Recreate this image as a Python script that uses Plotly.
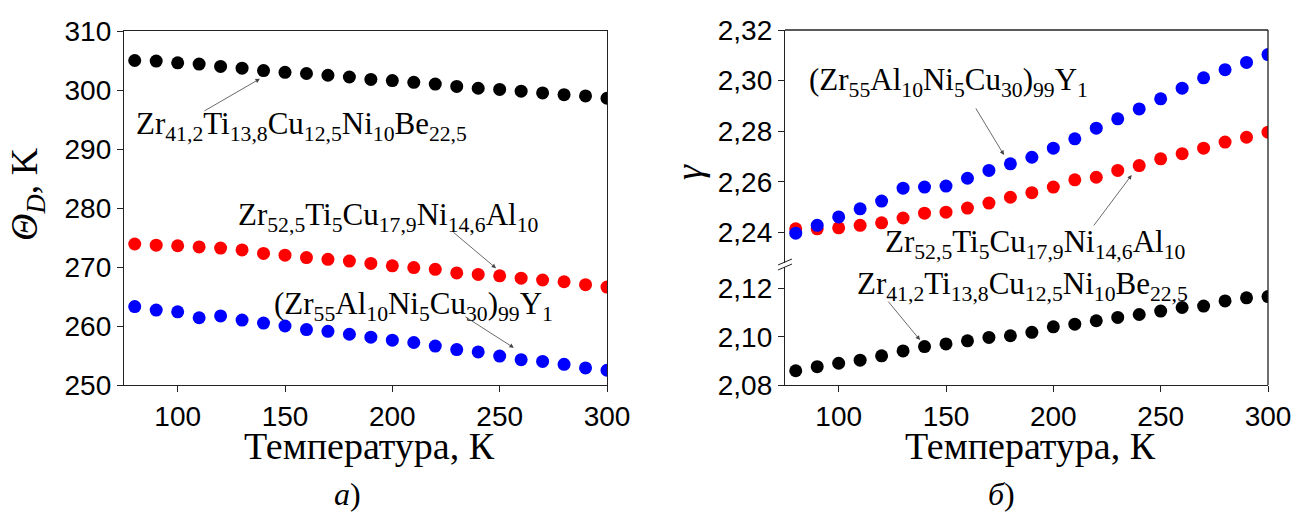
import plotly.graph_objects as go

# ---------------- data ----------------
temperature_K = [80, 90, 100, 110, 120, 130, 140, 150, 160, 170, 180, 190,
                 200, 210, 220, 230, 240, 250, 260, 270, 280, 290, 300]

theta_ZrTiCuNiBe = [305.0, 304.9, 304.6, 304.4, 304.0, 303.7, 303.3, 303.0, 302.8, 302.5, 302.2, 301.8,
                    301.6, 301.3, 301.0, 300.6, 300.3, 300.1, 299.8, 299.5, 299.2, 299.0, 298.6]
theta_ZrTiCuNiAl = [273.9, 273.7, 273.6, 273.4, 273.2, 272.9, 272.3, 272.0, 271.6, 271.3, 271.0, 270.6,
                    270.2, 269.9, 269.6, 269.0, 268.75, 268.5, 268.1, 267.8, 267.5, 267.0, 266.6]
theta_ZrAlNiCuY = [263.3, 262.7, 262.4, 261.4, 261.7, 261.0, 260.5, 260.0, 259.4, 259.1, 258.6, 258.1,
                   257.6, 257.2, 256.6, 256.0, 255.6, 254.9, 254.3, 254.0, 253.5, 252.9, 252.5]

gamma_ZrAlNiCuY = [2.2397, 2.2428, 2.2461, 2.2493, 2.2524, 2.2575, 2.2579, 2.2583, 2.2614, 2.2645, 2.2671, 2.2697,
                   2.2733, 2.2770, 2.2812, 2.2849, 2.2888, 2.2928, 2.2970, 2.3011, 2.3043, 2.3072, 2.3103]
gamma_ZrTiCuNiAl = [2.2414, 2.2414, 2.2418, 2.2428, 2.2438, 2.2457, 2.2476, 2.2480, 2.2496, 2.2516, 2.2539, 2.2557,
                    2.2579, 2.2608, 2.2618, 2.2645, 2.2664, 2.2691, 2.2711, 2.2733, 2.2757, 2.2776, 2.2796]
gamma_ZrTiCuNiBe = [2.0859, 2.0876, 2.0890, 2.0903, 2.0921, 2.0941, 2.0959, 2.0970, 2.0983, 2.0997, 2.1004, 2.1018,
                    2.1041, 2.1052, 2.1066, 2.1080, 2.1092, 2.1106, 2.1121, 2.1127, 2.1148, 2.1161, 2.1166]

x_ticks = [100, 150, 200, 250, 300]
theta_ticks = [250, 260, 270, 280, 290, 300, 310]
gamma_ticks_upper = [2.24, 2.26, 2.28, 2.30, 2.32]
gamma_ticks_lower = [2.08, 2.10, 2.12]

label_Be = "Zr<sub>41,2</sub>Ti<sub>13,8</sub>Cu<sub>12,5</sub>Ni<sub>10</sub>Be<sub>22,5</sub>"
label_Al = "Zr<sub>52,5</sub>Ti<sub>5</sub>Cu<sub>17,9</sub>Ni<sub>14,6</sub>Al<sub>10</sub>"
label_Y = "(Zr<sub>55</sub>Al<sub>10</sub>Ni<sub>5</sub>Cu<sub>30</sub>)<sub>99</sub>Y<sub>1</sub>"

# ---------------- styling ----------------
W, H = 1306, 518
SERIF = "Liberation Serif, Times New Roman, serif"
SANS = "Liberation Sans, Arial, sans-serif"
BLACK, RED, BLUE = "#000000", "#ff0000", "#0000ff"
MS = 13
LINE_C, LINE_W = "#222222", 1.3

def px(x):
    return x / W

def py(y):
    return 1 - y / H

xl_dom = [px(124), px(607)]
xr_dom = [px(785), px(1268)]
yl_dom = [py(385), py(31)]
yru_dom = [py(263), py(30)]
yrl_dom = [py(385), py(267)]

fig = go.Figure()

def dots(x, y, color, xa, ya):
    fig.add_trace(go.Scatter(x=x, y=y, mode="markers", xaxis=xa, yaxis=ya,
                             marker=dict(size=MS, color=color, line=dict(width=0)),
                             showlegend=False, hoverinfo="x+y"))

dots(temperature_K, theta_ZrTiCuNiBe, BLACK, "x", "y")
dots(temperature_K, theta_ZrTiCuNiAl, RED, "x", "y")
dots(temperature_K, theta_ZrAlNiCuY, BLUE, "x", "y")
dots(temperature_K, gamma_ZrTiCuNiAl, RED, "x3", "y2")
dots(temperature_K, gamma_ZrAlNiCuY, BLUE, "x3", "y2")
dots(temperature_K, gamma_ZrTiCuNiBe, BLACK, "x2", "y3")

axis_common = dict(showgrid=False, zeroline=False, ticks="outside", ticklen=6, automargin=False,
                   tickwidth=LINE_W, tickcolor=LINE_C, showline=True, linecolor=LINE_C,
                   linewidth=LINE_W, tickfont=dict(family=SANS, size=28, color="#000"))

fig.update_layout(
    width=W, height=H, margin=dict(l=0, r=0, t=0, b=0, pad=0, autoexpand=False),
    paper_bgcolor="white", plot_bgcolor="white", showlegend=False,
    xaxis=dict(domain=xl_dom, range=[75, 300], tickvals=x_ticks, anchor="y", mirror=True, **axis_common),
    yaxis=dict(domain=yl_dom, range=[250, 310], tickvals=theta_ticks, anchor="x", mirror=True, **axis_common),
    xaxis2=dict(domain=xr_dom, range=[75, 300], tickvals=x_ticks, anchor="y3", mirror=False, **axis_common),
    yaxis3=dict(domain=yrl_dom, range=[2.08, 2.08 + 118 / 2415], tickvals=gamma_ticks_lower,
                ticktext=[f"{v:.2f}".replace(".", ",") for v in gamma_ticks_lower],
                anchor="x2", mirror=False, **axis_common),
    xaxis3=dict(domain=xr_dom, range=[75, 300], anchor="y2", matches="x2", visible=False),
    yaxis2=dict(domain=yru_dom, range=[2.32 - 233 / 2530, 2.32], tickvals=gamma_ticks_upper,
                ticktext=[f"{v:.2f}".replace(".", ",") for v in gamma_ticks_upper],
                anchor="x3", mirror=False, **axis_common),
)

# frame of the right panel (top + right edge) and axis-break marks
shapes = [
    dict(type="line", xref="paper", yref="paper", x0=xr_dom[0], x1=xr_dom[1], y0=yru_dom[1], y1=yru_dom[1],
         line=dict(color=LINE_C, width=LINE_W)),
    dict(type="line", xref="paper", yref="paper", x0=xr_dom[1], x1=xr_dom[1], y0=yrl_dom[0], y1=yru_dom[1],
         line=dict(color=LINE_C, width=LINE_W)),
    dict(type="line", xref="paper", yref="paper", x0=px(778), x1=px(792), y0=py(265), y1=py(259),
         line=dict(color=LINE_C, width=1)),
    dict(type="line", xref="paper", yref="paper", x0=px(778), x1=px(792), y0=py(270), y1=py(264),
         line=dict(color=LINE_C, width=1)),
]
fig.update_layout(shapes=shapes)

ann = []
LBL_FONT = dict(family=SERIF, size=31, color="#000")

def label(text, x, y, xr, yr):
    ann.append(dict(text=text, x=x, y=y, xref=xr, yref=yr, xanchor="left", yanchor="middle",
                    showarrow=False, font=LBL_FONT))

def arrow(x, y, ax, ay, xr, yr):
    ann.append(dict(text="", x=x, y=y, xref=xr, yref=yr, ax=ax, ay=ay, showarrow=True,
                    arrowhead=2, arrowsize=1.1, arrowwidth=0.8, arrowcolor="#444"))

# left panel
label(label_Be, 79.6, 293.9, "x", "y")
label(label_Al, 127.3, 278.4, "x", "y")
label(label_Y, 144.1, 263.4, "x", "y")
arrow(138.3, 301.9, -57, 33, "x", "y")
arrow(248.3, 269.8, -44, -37, "x", "y")
arrow(256.6, 256.3, -50, -32, "x", "y")

# right panel
label(label_Y, 85.2, 2.2995, "x3", "y2")
label(label_Al, 120.6, 2.2354, "x3", "y2")
label(label_Be, 107.6, 2.1210, "x2", "y3")
arrow(177, 2.2706, -29, -48, "x3", "y2")
arrow(236.5, 2.2627, -39, 52, "x3", "y2")
arrow(137.9, 2.0986, -33, -40, "x2", "y3")

TITLE_FONT = dict(family=SERIF, size=38, color="#000")
for cx in (369, 1030):
    ann.append(dict(text="Температура, К", x=px(cx), y=py(446), xref="paper", yref="paper",
                    showarrow=False, xanchor="center", yanchor="middle", font=TITLE_FONT))
ann.append(dict(text="<i>Θ</i><sub><i>D</i></sub>, K", x=px(27), y=py(194), xref="paper", yref="paper",
                showarrow=False, textangle=-90, xanchor="center", yanchor="middle", font=TITLE_FONT))
ann.append(dict(text="<i>γ</i>", x=px(689), y=py(172), xref="paper", yref="paper",
                showarrow=False, textangle=-90, xanchor="center", yanchor="middle", font=TITLE_FONT))
PANEL_FONT = dict(family=SERIF, size=32, color="#000")
ann.append(dict(text="<i>а</i>)", x=px(347), y=py(494), xref="paper", yref="paper",
                showarrow=False, xanchor="center", yanchor="middle", font=PANEL_FONT))
ann.append(dict(text="<i>б</i>)", x=px(1002), y=py(494), xref="paper", yref="paper",
                showarrow=False, xanchor="center", yanchor="middle", font=PANEL_FONT))

fig.update_layout(annotations=ann)
# remove the default 8 px page margin so the figure fills the window exactly
fig.write_html("out.html", config={"displayModeBar": False},
               post_script="document.body.style.margin='0px';")
